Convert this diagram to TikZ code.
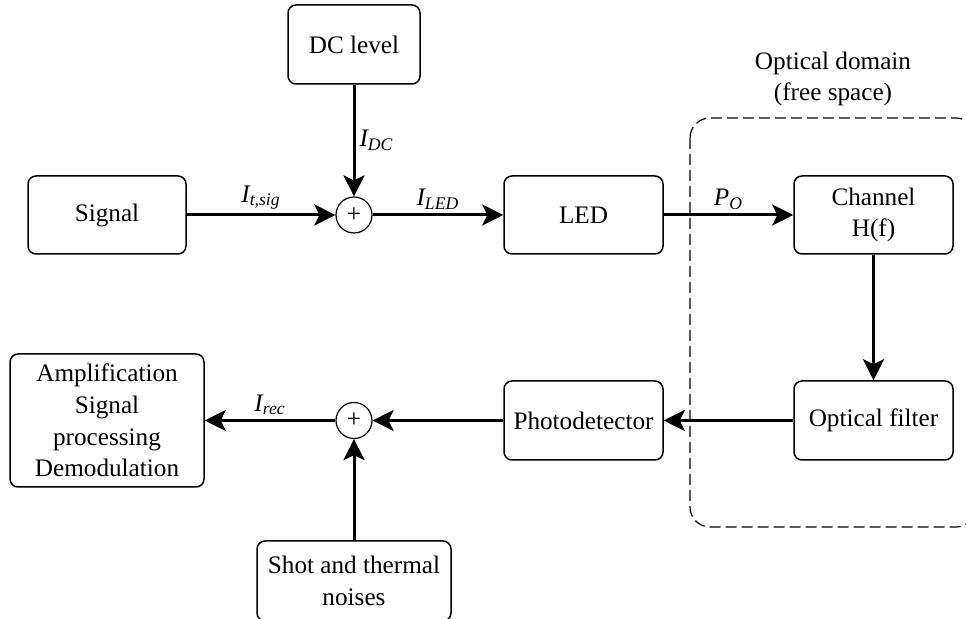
\documentclass[tikz,border=0pt]{standalone}
\usepackage{fontspec}
\setmainfont{Liberation Serif}
\usetikzlibrary{arrows.meta}
\begin{document}
\begin{tikzpicture}[x=0.5pt,y=-0.5pt,
  font=\fontsize{12.6}{15.8}\selectfont,
  blk/.style={draw, line width=0.75pt, rounded corners=4pt, align=center, inner sep=0pt},
  sumc/.style={draw, circle, line width=0.6pt, minimum size=18pt, inner sep=0pt, font=\fontsize{13}{13}\selectfont},
  flow/.style={line width=1.5pt, -{Stealth[length=10.5pt,width=10.5pt,inset=2.5pt]}},
  lbl/.style={font=\fontsize{12.6}{15}\selectfont\itshape, inner sep=2pt}
]
\useasboundingbox (0,0) rectangle (966,619);

% optical domain region
\draw[line width=0.6pt, dash pattern=on 5.5pt off 2.5pt, rounded corners=10pt] (690,118) rectangle (976,527);
\node[align=center] (domlbl) at (833,79) {Optical domain\\(free space)};

% blocks
\node[blk, minimum width=79pt, minimum height=39pt] (sig) at (107,215) {Signal};
\node[blk, minimum width=66pt, minimum height=39.5pt] (dc) at (354,44.5) {DC level};
\node[sumc] (s1) at (354,215) {+};
\node[blk, minimum width=79.5pt, minimum height=39pt] (led) at (583.5,215) {LED};
\node[blk, minimum width=79.5pt, minimum height=39pt] (ch) at (873.5,215) {Channel\\H(f)};
\node[blk, minimum width=79.5pt, minimum height=39.5pt] (of) at (873.5,420.5) {Optical filter};
\node[blk, minimum width=79.5pt, minimum height=39.5pt] (pd) at (583.5,420.5) {Photodetector};
\node[sumc] (s2) at (354,420.5) {+};
\node[blk, minimum width=97pt, minimum height=66.5pt] (amp) at (107,420.5) {Amplification\\Signal\\processing\\Demodulation};
\node[blk, minimum width=97pt, minimum height=40pt] (shot) at (354,581) {Shot and thermal\\noises};

% connectors
\draw[flow] (sig) -- (s1) node[midway, above, lbl] {I\textsubscript{t,sig}};
\draw[flow] (dc) -- (s1) node[midway, right, lbl] {I\textsubscript{DC}};
\draw[flow] (s1) -- (led) node[midway, above, lbl] {I\textsubscript{LED}};
\draw[flow] (led) -- (ch) node[midway, above, lbl] {P\textsubscript{O}};
\draw[flow] (ch) -- (of);
\draw[flow] (of) -- (pd);
\draw[flow] (pd) -- (s2);
\draw[flow] (shot) -- (s2);
\draw[flow] (s2) -- (amp) node[midway, above, lbl] {I\textsubscript{rec}};
\end{tikzpicture}
\end{document}
